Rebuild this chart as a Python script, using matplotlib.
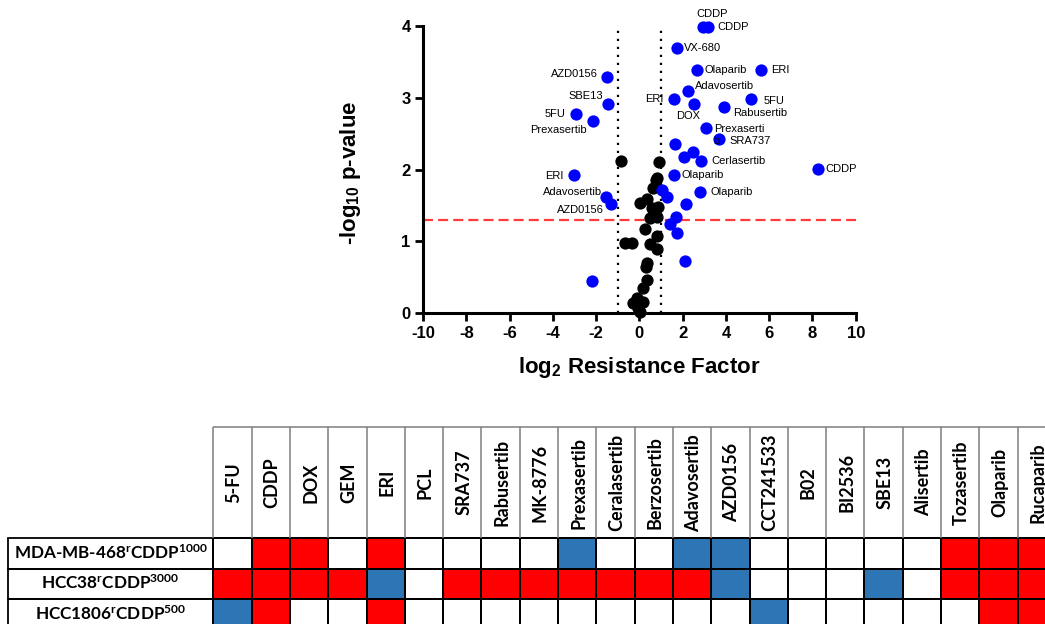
import numpy as np
import matplotlib
matplotlib.use('Agg')
import matplotlib.pyplot as plt
from matplotlib.colors import ListedColormap

plt.rcParams['font.family'] = ['Liberation Sans', 'DejaVu Sans']
plt.rcParams['mathtext.default'] = 'regular'
plt.rcParams['axes.unicode_minus'] = False

# --- volcano data (log2 resistance factor, -log10 p) ---
# non significant (black)
ns_x = [-0.85, 0.91, 0.80, 0.65, 0.77, 0.34, 0.03, 0.88, 0.57, 0.49, 0.80, 0.26, 0.80,
        0.49, 0.80, -0.66, -0.35, 0.34, 0.31, 0.34, 0.19, -0.12, -0.28, 0.19, -0.05, 0.03]
ns_y = [2.12, 2.10, 1.88, 1.74, 1.86, 1.59, 1.53, 1.48, 1.46, 1.32, 1.34, 1.17, 1.07,
        0.97, 0.89, 0.975, 0.975, 0.70, 0.65, 0.46, 0.35, 0.21, 0.14, 0.16, 0.07, 0.02]

# significant, unlabelled (blue)
sig_x = [-2.18, 1.66, 2.47, 2.08, 1.03, 1.29, 2.16, 1.70, 1.42, 1.76, 2.10]
sig_y = [0.45, 2.36, 2.25, 2.18, 1.72, 1.62, 1.52, 1.34, 1.25, 1.12, 0.73]

# significant, labelled (blue)
lab_names = ['AZD0156', 'SBE13', '5FU', 'Prexasertib', 'ERI', 'Adavosertib', 'AZD0156',
             'CDDP', 'CDDP', 'VX-680', 'Olaparib', 'ERI', 'Adavosertib', 'ERI', 'DOX',
             '5FU', 'Rabusertib', 'Prexaserti\nb', 'SRA737', 'Cerlasertib', 'CDDP',
             'Olaparib', 'Olaparib']
lab_x = [-1.51, -1.46, -2.94, -2.12, -3.00, -1.54, -1.32,
         2.96, 3.16, 1.76, 2.65, 5.62, 2.26, 1.60, 2.54,
         5.17, 3.91, 3.07, 3.70, 2.85, 8.27, 1.62, 2.82]
lab_y = [3.29, 2.91, 2.78, 2.68, 1.92, 1.62, 1.52,
         3.98, 3.98, 3.69, 3.39, 3.39, 3.10, 2.98, 2.91,
         2.98, 2.87, 2.58, 2.42, 2.12, 2.01, 1.93, 1.69]

# where each label sits relative to its point (pixels, alignment)
lab_pos = [(-9, 3, 'right'), (-5, 8, 'right'), (-10, 0, 'right'), (-7, -9, 'right'),
           (-11, -1, 'right'), (-4, 5, 'right'), (-7, -6, 'right'),
           (9, 13, 'center'), (10, 0, 'left'), (7, 0, 'left'), (8, 0, 'left'),
           (10, 0, 'left'), (7, 5, 'left'), (-10, 0, 'right'), (6, -12, 'right'),
           (12, -2, 'left'), (9, -6, 'left'), (8, -7, 'left'), (10, -2, 'left'),
           (10, 0, 'left'), (7, 0, 'left'), (7, 0, 'left'), (10, 0, 'left')]

# --- table data ---
drugs = ['5-FU', 'CDDP', 'DOX', 'GEM', 'ERI', 'PCL', 'SRA737', 'Rabusertib', 'MK-8776',
         'Prexasertib', 'Ceralasertib', 'Berzosertib', 'Adavosertib', 'AZD0156',
         'CCT241533', 'B02', 'BI2536', 'SBE13', 'Alisertib', 'Tozasertib', 'Olaparib',
         'Rucaparib']
cell_lines = ['MDA-MB-468$^{r}$CDDP$^{1000}$', 'HCC38$^{r}$CDDP$^{3000}$',
              'HCC1806$^{r}$CDDP$^{500}$']
# 1 = resistant (red), -1 = sensitised (blue), 0 = no change
status = [
    [0, 1, 1, 0, 1, 0, 0, 0, 0, -1, 0, 0, -1, -1, 0, 0, 0, 0, 0, 1, 1, 1],
    [1, 1, 1, 1, -1, 0, 1, 1, 1, 1, 1, 1, 1, -1, 0, 0, 0, -1, 0, 1, 1, 1],
    [-1, 1, 0, 0, 1, 0, 0, 0, 0, 0, 0, 0, 0, 0, -1, 0, 0, 0, 0, 0, 1, 1],
]

W, H = 1045, 624
fig = plt.figure(figsize=(W / 100, H / 100), dpi=100)

# ---------------- table (pixel coordinates) ----------------
axt = fig.add_axes([0, 0, 1, 1], zorder=0)
axt.set_xlim(0, W)
axt.set_ylim(H, 0)
axt.axis('off')

x0, cw = 213.3, 38.3
hdr_top, row_top, rh = 427, 538.3, 30.4
lbl_left = 8

xe = x0 + cw * np.arange(len(drugs) + 1)
ye = row_top + rh * np.arange(len(cell_lines) + 1)
cmap = ListedColormap(['#2E75B6', 'white', '#FF0000'])
axt.pcolormesh(xe, ye, np.array(status), cmap=cmap, vmin=-1.5, vmax=1.5,
               edgecolors='black', linewidth=1.1)

# header cells
axt.vlines(xe, hdr_top, row_top, color='#7f7f7f', lw=1.1)
axt.hlines(hdr_top, xe[0], xe[-1], color='#7f7f7f', lw=1.1)
for i, d in enumerate(drugs):
    axt.text(x0 + cw * (i + 0.5) + 1.5, (hdr_top + row_top) / 2, d, rotation=90,
             ha='center', va='center', fontsize=13, fontweight='bold',
             family=['Lato', 'DejaVu Sans'])

# row label cells
for j, name in enumerate(cell_lines):
    axt.add_patch(plt.Rectangle((lbl_left, ye[j]), x0 - lbl_left, rh, fill=False,
                                ec='black', lw=1.3))
    axt.text((lbl_left + x0) / 2, ye[j] + rh / 2 - 1, name, ha='center', va='center',
             fontsize=12.3, fontweight='bold', family=['Lato', 'DejaVu Sans'])

# ---------------- volcano plot ----------------
ax = fig.add_axes([423 / W, 1 - 313.3 / H, 432.7 / W, 287.3 / H], zorder=2)
ax.patch.set_alpha(0)
ax.set_xlim(-10, 10)
ax.set_ylim(0, 4)

ax.plot([-1, -1], [0, 4], color='black', lw=1.6, ls=(0, (1, 2.6)), zorder=1)
ax.plot([1, 1], [0, 4], color='black', lw=1.6, ls=(0, (1, 2.6)), zorder=1)
ax.axhline(-np.log10(0.05), color='#FF3B3B', lw=1.6, ls=(0, (4.5, 2.3)), zorder=1)

ax.scatter(ns_x, ns_y, s=78, color='black', zorder=3, clip_on=False, lw=0)
ax.scatter(sig_x, sig_y, s=78, color='#0000FF', zorder=3, clip_on=False, lw=0)
ax.scatter(lab_x, lab_y, s=78, color='#0000FF', zorder=3, clip_on=False, lw=0)

for name, x, y, (dx, dy, ha) in zip(lab_names, lab_x, lab_y, lab_pos):
    ax.annotate(name, (x, y), xytext=(dx, dy), textcoords='offset pixels',
                ha=ha, va='center', fontsize=8, zorder=4, annotation_clip=False)

for s in ['top', 'right']:
    ax.spines[s].set_visible(False)
for s in ['left', 'bottom']:
    ax.spines[s].set_linewidth(2.2)
ax.set_xticks(range(-10, 11, 2))
ax.set_yticks(range(0, 5))
ax.tick_params(width=2, length=6, labelsize=12, pad=3)
for lbl in ax.get_xticklabels() + ax.get_yticklabels():
    lbl.set_fontweight('bold')

ax.text(0.5, -0.19, 'log$_{2}$ Resistance Factor', transform=ax.transAxes,
        ha='center', va='center', fontsize=16, fontweight='bold')
ax.text(-0.167, 0.49, '-log$_{10}$ p-value', transform=ax.transAxes, rotation=90,
        ha='center', va='center', fontsize=16, fontweight='bold')

fig.savefig('out.png', dpi=100)
